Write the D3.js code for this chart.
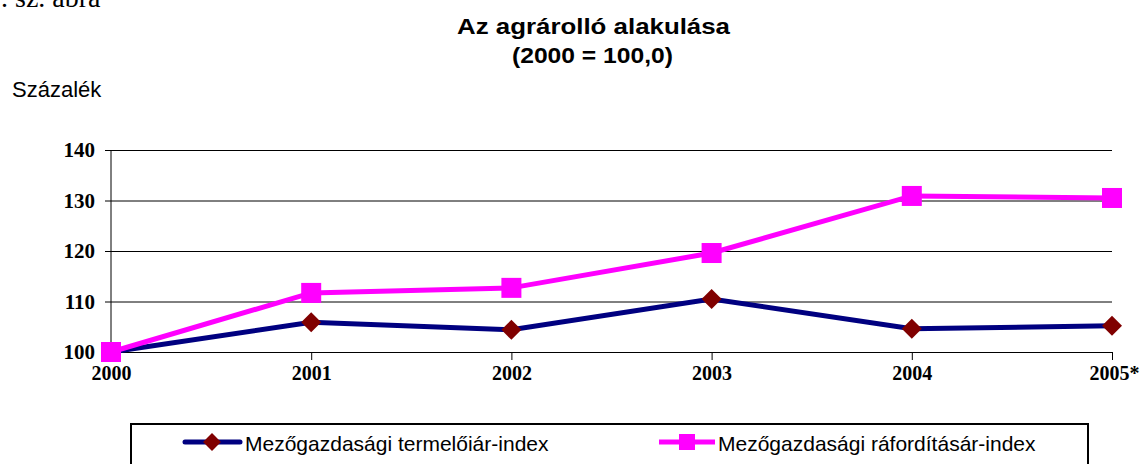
<!DOCTYPE html>
<html>
<head>
<meta charset="utf-8">
<script src="https://cdn.jsdelivr.net/npm/d3@7"></script>
<style>
body { margin: 0; background: #fff; }
svg { display: block; }
</style>
</head>
<body>
<svg id="chart" width="1140" height="464"></svg>
<script>
// data
var years = ['2000', '2001', '2002', '2003', '2004', '2005*'];
var termeloiar = [100, 105.9, 104.4, 110.5, 104.6, 105.2];
var raforditasar = [100, 111.7, 112.7, 119.6, 130.9, 130.5];
var yTicks = [100, 110, 120, 130, 140];
var seriesNames = ['Mezőgazdasági termelőiár-index', 'Mezőgazdasági ráfordításár-index'];

var svg = d3.select('#chart');

var x = d3.scalePoint().domain(years).range([111, 1112]);
var y = d3.scaleLinear().domain([100, 140]).range([352, 150]);

// fig number, clipped at the top like in the source
svg.append('text')
	.attr('x', -13).attr('y', 7)
	.attr('font-family', 'Liberation Serif')
	.attr('font-size', 28)
	.text('1. sz. ábra');

// title is stretched a bit wide in the original
svg.append('text')
	.attr('x', 457).attr('y', 34)
	.attr('font-family', 'Liberation Sans')
	.attr('font-weight', 'bold')
	.attr('font-size', 22)
	.attr('textLength', 273)
	.attr('lengthAdjust', 'spacingAndGlyphs')
	.text('Az agrárolló alakulása');
svg.append('text')
	.attr('x', 512).attr('y', 63)
	.attr('font-family', 'Liberation Sans')
	.attr('font-weight', 'bold')
	.attr('font-size', 22)
	.attr('textLength', 161)
	.attr('lengthAdjust', 'spacingAndGlyphs')
	.text('(2000 = 100,0)');

svg.append('text')
	.attr('x', 12).attr('y', 97)
	.attr('font-family', 'Liberation Sans')
	.attr('font-size', 22)
	.text('Százalék');

// gridlines + y axis
var yAxis = d3.axisLeft(y).tickValues(yTicks).tickSize(-(1112 - 105)).tickPadding(10);
var gy = svg.append('g').attr('transform', 'translate(105,0)').call(yAxis);
gy.select('.domain').remove();
gy.selectAll('.tick line').attr('stroke', '#000').attr('stroke-width', 1);
gy.selectAll('.tick text')
	.attr('font-family', 'Liberation Serif')
	.attr('font-weight', 'bold')
	.attr('font-size', 21)
	.attr('fill', '#000');

svg.append('line')
	.attr('x1', 111).attr('x2', 111)
	.attr('y1', 150).attr('y2', 352)
	.attr('stroke', '#000').attr('stroke-width', 1);

var xAxis = d3.axisBottom(x).tickSize(8).tickPadding(6).tickSizeOuter(0);
var gx = svg.append('g').attr('transform', 'translate(0,352)').call(xAxis);
gx.select('.domain').attr('stroke', '#000');
gx.selectAll('.tick line').attr('stroke', '#000');
gx.selectAll('.tick text')
	.attr('font-family', 'Liberation Serif')
	.attr('font-weight', 'bold')
	.attr('font-size', 20)
	.attr('fill', '#000')
	.attr('dx', function(d) { return d === '2005*' ? 2 : 0; });

var line = d3.line()
	.x(function(d, i) { return x(years[i]); })
	.y(function(d) { return y(d); });

svg.append('path').datum(termeloiar)
	.attr('d', line)
	.attr('fill', 'none')
	.attr('stroke', '#000080')
	.attr('stroke-width', 5);

svg.append('path').datum(raforditasar)
	.attr('d', line)
	.attr('fill', 'none')
	.attr('stroke', '#ff00ff')
	.attr('stroke-width', 5);

var diamond = d3.symbol().type(d3.symbolSquare).size(200);
svg.selectAll('.dia').data(termeloiar).enter().append('path')
	.attr('class', 'dia')
	.attr('d', diamond)
	.attr('transform', function(d, i) { return 'translate(' + x(years[i]) + ',' + y(d) + ') rotate(45)'; })
	.attr('fill', '#800000');

svg.selectAll('.sq').data(raforditasar).enter().append('rect')
	.attr('class', 'sq')
	.attr('x', function(d, i) { return x(years[i]) - 10; })
	.attr('y', function(d) { return y(d) - 10; })
	.attr('width', 20).attr('height', 20)
	.attr('fill', '#ff00ff');

// legend
svg.append('rect')
	.attr('x', 131).attr('y', 424)
	.attr('width', 957).attr('height', 60)
	.attr('fill', 'none')
	.attr('stroke', '#000')
	.attr('stroke-width', 2);

var lg = svg.append('g');
lg.append('line').attr('x1', 185).attr('x2', 240).attr('y1', 442).attr('y2', 442)
	.attr('stroke', '#000080').attr('stroke-width', 5).attr('stroke-linecap', 'round');
lg.append('path').attr('d', d3.symbol().type(d3.symbolSquare).size(160))
	.attr('transform', 'translate(212,442) rotate(45)')
	.attr('fill', '#800000');
lg.append('text').attr('x', 245).attr('y', 451)
	.attr('font-family', 'Liberation Sans')
	.attr('font-size', 21)
	.text(seriesNames[0]);

lg.append('line').attr('x1', 659).attr('x2', 715).attr('y1', 442).attr('y2', 442)
	.attr('stroke', '#ff00ff').attr('stroke-width', 5);
lg.append('rect').attr('x', 679).attr('y', 434).attr('width', 16).attr('height', 16)
	.attr('fill', '#ff00ff');
lg.append('text').attr('x', 718).attr('y', 451)
	.attr('font-family', 'Liberation Sans')
	.attr('font-size', 21)
	.text(seriesNames[1]);
</script>
</body>
</html>
